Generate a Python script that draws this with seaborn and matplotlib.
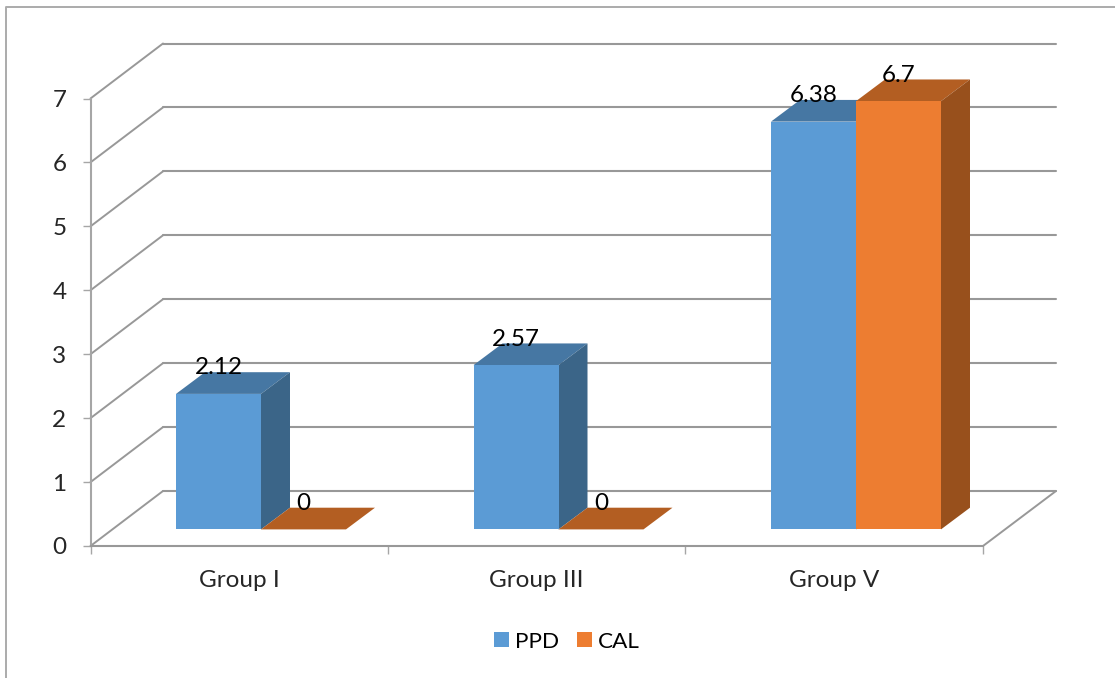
import matplotlib
matplotlib.use("Agg")
import matplotlib.pyplot as plt
from matplotlib.lines import Line2D
from matplotlib.patches import Polygon
from matplotlib.transforms import IdentityTransform, Affine2D
import pandas as pd
import seaborn as sns

groups = ["Group I", "Group III", "Group V"]
series = ["PPD", "CAL"]
ppd_values = [2.12, 2.57, 6.38]
cal_values = [0, 0, 6.7]
value_ticks = [0, 1, 2, 3, 4, 5, 6, 7]

W, H = 1115, 678
GRID = "#989898"
FRONT = {"PPD": "#5B9BD5", "CAL": "#ED7D31"}
SIDE = {"PPD": "#3B6588", "CAL": "#98501C"}
TOP = {"PPD": "#4677A3", "CAL": "#B35E22"}
DEPTH = (29, 21.7)
FS = 17.5

sns.set_theme(style="white")
plt.rcParams["font.family"] = ["Lato", "DejaVu Sans"]
plt.rcParams["text.color"] = "#000000"

fig = plt.figure(figsize=(W / 100, H / 100), dpi=100, facecolor="white")


def rect(left, top, right, bottom):
    return [left / W, 1 - bottom / H, (right - left) / W, (bottom - top) / H]


# back wall
ax_back = fig.add_axes(rect(163, 43.5, 1056, 491), zorder=0)
ax_back.set_xlim(0, 3)
ax_back.set_ylim(0, 7)
ax_back.set_yticks(value_ticks)
ax_back.set_xticks([])
ax_back.tick_params(left=False, labelleft=False)
ax_back.grid(axis="y", color=GRID, lw=1.5, clip_on=False)
for gl in ax_back.get_ygridlines():
    gl.set_clip_on(False)
ax_back.patch.set_alpha(0)
sns.despine(ax=ax_back, left=True, bottom=True)

# front plane with the real ticks and labels
ax_front = fig.add_axes(rect(90.5, 98.5, 983, 546), zorder=1)
ax_front.patch.set_alpha(0)
ax_front.set_xlim(0, 3)
ax_front.set_ylim(0, 7)
ax_front.set_yticks(value_ticks)
ax_front.set_yticklabels([str(v) for v in value_ticks], fontsize=FS)
ax_front.set_xticks([0, 1, 2, 3])
ax_front.set_xticklabels([])
ax_front.set_xticks([0.5, 1.5, 2.5], labels=groups, minor=True, fontsize=FS)
ax_front.tick_params(axis="y", length=5.8, width=1, color="#A6A6A6", pad=11.5, left=True)
ax_front.tick_params(axis="x", which="major", length=5.8, width=1, color="#A6A6A6", bottom=True)
ax_front.tick_params(axis="x", which="minor", length=0, pad=17)
sns.despine(ax=ax_front)
ax_front.spines["left"].set_color("#A6A6A6")
ax_front.spines["left"].set_linewidth(1.5)
ax_front.spines["bottom"].set_color(GRID)
ax_front.spines["bottom"].set_linewidth(1.5)

# bars
df = pd.DataFrame({
    "group": groups * 2,
    "series": [series[0]] * 3 + [series[1]] * 3,
    "value": ppd_values + cal_values,
})
ax = fig.add_axes(rect(112.25, 82, 1004.75, 529.4), zorder=2)
ax.patch.set_alpha(0)
sns.barplot(data=df, x="group", y="value", hue="series", palette=FRONT, saturation=1,
            width=0.5714, gap=0, ax=ax, linewidth=0, legend=True)
ax.set_xlim(-0.5, 2.5)
ax.set_ylim(0, 7)
ax.set_axis_off()

fig.canvas.draw()
ident = IdentityTransform()

# diagonals joining front plane and back wall
for v in value_ticks:
    p0 = ax_front.transData.transform((0, v))
    p1 = ax_back.transData.transform((0, v))
    fig.add_artist(Line2D([p0[0], p1[0]], [p0[1], p1[1]], transform=ident, color=GRID, lw=1.4, zorder=0.5))
p0 = ax_front.transData.transform((3, 0))
p1 = ax_back.transData.transform((3, 0))
fig.add_artist(Line2D([p0[0], p1[0]], [p0[1], p1[1]], transform=ident, color=GRID, lw=1.4, zorder=0.5))

# 3D faces and value labels
dx, dy = DEPTH
for i, (name, cont) in enumerate(zip(series, ax.containers)):
    for bar, val in zip(cont.patches, cont.datavalues):
        bar.set_zorder(4 + 2 * i)
        x0, x1 = bar.get_x(), bar.get_x() + bar.get_width()
        (px0, py0), (px1, py1) = ax.transData.transform([(x0, 0), (x1, val)])
        top = [(px0, py1), (px1, py1), (px1 + dx, py1 + dy), (px0 + dx, py1 + dy)]
        ax.add_patch(Polygon(top, closed=True, transform=ident, fc=TOP[name], ec="none", zorder=3 + 2 * i, clip_on=False))
        if val > 0:
            side = [(px1, py0), (px1 + dx, py0 + dy), (px1 + dx, py1 + dy), (px1, py1)]
            ax.add_patch(Polygon(side, closed=True, transform=ident, fc=SIDE[name], ec="none", zorder=3 + 2 * i, clip_on=False))
        ax.annotate(f"{val:g}", (bar.get_x() + bar.get_width() / 2, val), xytext=(0, 26),
                    textcoords="offset pixels", ha="center", va="center", fontsize=FS,
                    color="black", zorder=10, annotation_clip=False)

# legend
sns.move_legend(ax, loc="center", bbox_to_anchor=(567 / W, 1 - 641.5 / H),
                bbox_transform=fig.transFigure, ncol=2, title=None, frameon=False,
                fontsize=16.2, handlelength=0.66, handleheight=0.66, handletextpad=0.28,
                columnspacing=0.8)

# outer frame, cropped at right and bottom
FRAME = "#ABABAB"
fig.add_artist(Line2D([6 / W, 6 / W, 1], [0, 1 - 7 / H, 1 - 7 / H], color=FRAME, lw=1.4, zorder=0.2))

fig.savefig("out.png", dpi=100, facecolor="white")
